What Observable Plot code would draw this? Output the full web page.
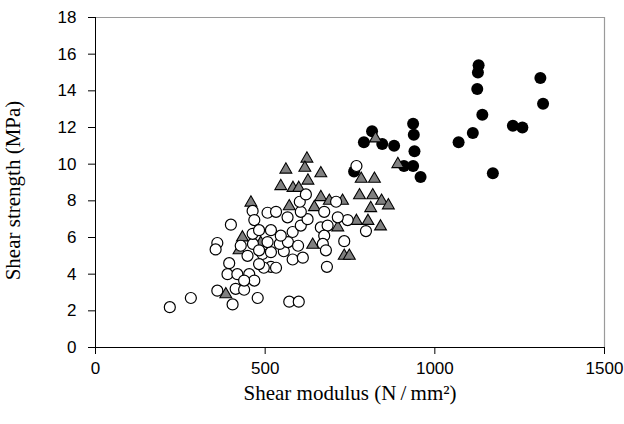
<!DOCTYPE html>
<html><head><meta charset="utf-8">
<script src="https://cdn.jsdelivr.net/npm/d3@7"></script>
<script src="https://cdn.jsdelivr.net/npm/@observablehq/plot@0.6"></script>
<style>body{margin:0;background:#fff}</style>
</head><body><div id="chart"></div>
<script>
const xTicks = [0, 500, 1000, 1500];
const yTicks = [0, 2, 4, 6, 8, 10, 12, 14, 16, 18];
const xTitle = "Shear modulus (N\u2009/\u2009mm²)";
const yTitle = "Shear strength (MPa)";

const blackX = [815, 791, 845, 880, 762, 909, 936, 936, 938, 940, 958, 1070, 1112, 1140, 1125, 1127, 1129, 1171, 1230, 1258, 1311, 1319];
const blackY = [11.8, 11.2, 11.1, 11.0, 9.6, 9.9, 9.9, 12.2, 11.6, 10.7, 9.3, 11.2, 11.7, 12.7, 14.1, 15.0, 15.4, 9.5, 12.1, 12.0, 14.7, 13.3];

const greyX = [623, 617, 561, 664, 546, 582, 599, 626, 664, 689, 458, 571, 783, 822, 778, 817, 843, 863, 811, 769, 803, 840, 891, 640, 733, 748, 433, 423, 384, 487, 645, 714, 728, 825];
const greyY = [10.3, 9.8, 9.7, 9.5, 8.8, 8.7, 8.7, 9.1, 8.2, 8.0, 7.9, 7.7, 9.2, 9.2, 8.3, 8.3, 8.0, 7.75, 7.6, 6.9, 6.9, 6.6, 10.0, 5.6, 5.0, 5.0, 6.0, 5.3, 2.9, 5.7, 7.65, 6.55, 8.0, 11.4];

const whiteX = [219, 281, 399, 359, 354, 359, 404, 478, 571, 599, 394, 389, 418, 453, 413, 438, 468, 438, 428, 464, 492, 517, 555, 517, 496, 532, 581, 611, 482, 543, 567, 597, 448, 482, 463, 507, 463, 468, 507, 532, 566, 517, 482, 546, 581, 605, 625, 605, 602, 620, 674, 664, 684, 709, 743, 797, 674, 670, 733, 679, 682, 769, 714];
const whiteY = [2.2, 2.7, 6.7, 5.7, 5.35, 3.1, 2.35, 2.7, 2.5, 2.5, 4.6, 4.0, 4.0, 4.0, 3.2, 3.15, 3.65, 3.65, 5.55, 5.65, 5.1, 5.2, 5.25, 4.4, 4.35, 4.35, 4.8, 4.9, 4.55, 5.65, 5.75, 5.55, 5.0, 5.3, 6.2, 5.75, 7.45, 6.95, 7.35, 7.4, 7.1, 6.4, 6.4, 6.1, 6.3, 6.65, 7.0, 7.4, 7.95, 8.35, 7.4, 6.55, 6.65, 7.95, 6.95, 6.35, 6.1, 5.65, 5.8, 5.3, 4.4, 9.9, 7.1];

const rows = (xs, ys) => xs.map((x, i) => ({x, y: ys[i]}));
const black = rows(blackX, blackY);
const grey = rows(greyX, greyY);
const white = rows(whiteX, whiteY);

const sans = "'Liberation Sans', Arial, sans-serif";
const serif = "'Liberation Serif', 'Times New Roman', serif";

const chart = Plot.plot({
  width: 624, height: 424,
  marginLeft: 95, marginRight: 20, marginTop: 17, marginBottom: 77,
  style: {fontFamily: sans, fontSize: "17px", color: "#000", background: "#fff"},
  x: {domain: [0, 1500]},
  y: {domain: [0, 18]},
  marks: [
    Plot.ruleY([18], {stroke: "#9a9a9a", strokeWidth: 1.2}),
    Plot.ruleX([1500], {stroke: "#9a9a9a", strokeWidth: 1.2}),
    Plot.axisX({ticks: xTicks, tickSize: 7, tickPadding: 7, label: null, fontSize: 17, tickFormat: d => String(d)}),
    Plot.axisY({ticks: yTicks, tickSize: 7, tickPadding: 12, label: null, fontSize: 17}),
    Plot.ruleX([0], {stroke: "#000"}),
    Plot.ruleY([0], {stroke: "#000"}),
    Plot.dot(black, {x: "x", y: "y", r: 6, fill: "#000", stroke: "none"}),
    Plot.dot(grey, {x: "x", y: "y", symbol: "triangle", r: 4.4, fill: "#808080", stroke: "#000", strokeWidth: 1.1}),
    Plot.dot(white, {x: "x", y: "y", r: 5.5, fill: "#fff", stroke: "#000", strokeWidth: 1.2}),
    Plot.text([xTitle], {frameAnchor: "bottom", lineAnchor: "middle", textAnchor: "middle", dy: 46, fontFamily: serif, fontSize: 21, text: d => d}),
    Plot.text([yTitle], {frameAnchor: "left", lineAnchor: "middle", textAnchor: "middle", dx: -82, dy: 8, rotate: -90, fontFamily: serif, fontSize: 21, text: d => d})
  ]
});
document.getElementById("chart").appendChild(chart);
</script>
</body></html>
